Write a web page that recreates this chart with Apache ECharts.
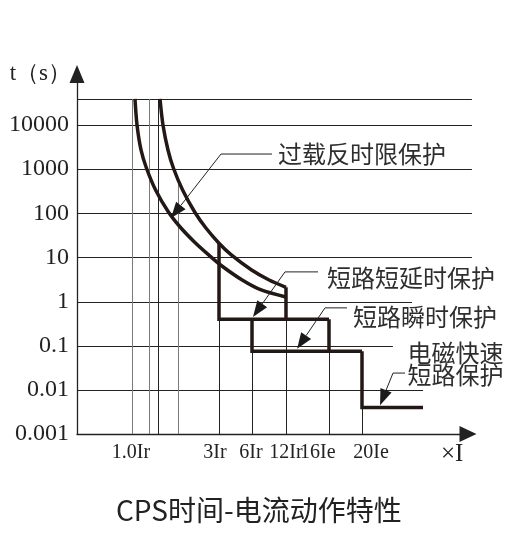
<!DOCTYPE html>
<html><head><meta charset="utf-8">
<script src="https://cdn.jsdelivr.net/npm/echarts@6/dist/echarts.min.js"></script>
<style>html,body{margin:0;padding:0;background:#fff}#c{width:518px;height:537px}</style>
</head><body><div id="c"></div>
<script>
// ---- tick labels ----
const yTickLabels = ['0.001', '0.01', '0.1', '1', '10', '100', '1000', '10000'];
const xLabels = ['1.0Ir', '3Ir', '6Ir', '12Ir', '16Ie', '20Ie'];
const xLabelPos = [13.8, 35.3, 44.5, 53.45, 61.6, 75.2];

// ---- reference lines ----
const hLineT = [0.01, 0.1, 1, 10, 100, 1000, 10000, 39000];
const hLineEnd = [88.5, 80.8, 85.7, 101, 101, 101, 101, 101];
const vLineX = [14.07, 18.41, 20.72, 25.83, 36.32, 44.76, 53.45, 64.45, 72.89];
const vLineTop = [39000, 39000, 39000, 600, 0.4, 0.075, 0.4, 0.075, 0.004];
const vLineGray = [true, true, false, true, false, false, false, false, false];

// ---- inverse-time (overload) curves ----
const curveAX = [14.83, 15.35, 16.37, 17.75, 20.10, 23.38, 26.37, 30.03, 33.68, 37.06, 42.25, 47.11, 53.45];
const curveAT = [39000, 10000, 2718, 1062, 337, 107, 48.9, 22.4, 11.4, 6.4, 3.08, 1.83, 1.27];
const curveBX = [21.23, 21.99, 23.27, 24.65, 27.01, 30.10, 32.97, 36.32, 39.46, 44.65, 49.13, 53.45];
const curveBT = [39000, 10000, 2718, 1062, 337, 107, 46.4, 21, 11.4, 5.19, 3.08, 2.1];

// ---- step characteristics ----
const shortDelayX = [36.32, 36.32, 64.45];
const shortDelayT = [21, 0.4, 0.4];
const shortDelayDropX = [53.45, 53.45];
const shortDelayDropT = [2.1, 0.4];
const instantX = [44.76, 44.76, 72.89];
const instantT = [0.4, 0.075, 0.075];
const instantDropX = [64.45, 64.45];
const instantDropT = [0.4, 0.075];
const emX = [72.89, 72.89, 88.49];
const emT = [0.075, 0.004, 0.004];

// ---- annotations ----
const annLabels = [['过载反时限保护'], ['短路短延时保护'], ['短路瞬时保护'], ['电磁快速', '短路保护']];
const annTip = [[24.04, 78], [45.0, 0.45], [56.3, 0.085], [77.5, 0.0045]];
const annElbow = [[36.83, 2200], [53.2, 4.7], [63.43, 0.72], [80.82, 0.024]];
const annLineEndX = [49.87, 61.64, 69.05, 83.89];
const annTextX = [51.4, 63.94, 70.59, 84.5];
const annTextT = [[2200], [3.4], [0.45], [0.068, 0.0217]];

const zip = (xs, ys) => xs.map((x, i) => [x, ys[i]]);
const INK = '#231815';

function stepSeries(name, xs, ts) {
  return {
    type: 'line', name, data: zip(xs, ts), symbol: 'none', z: 4,
    lineStyle: { color: INK, width: 3.5, join: 'miter', cap: 'butt' }, silent: true
  };
}

const chart = echarts.init(document.getElementById('c'), null, { renderer: 'canvas' });
chart.setOption({
  animation: false,
  backgroundColor: '#fff',
  title: {
    text: 'CPS时间-电流动作特性', left: 111, top: 491,
    textStyle: { fontFamily: 'Noto Sans CJK SC', fontSize: 28, fontWeight: 'normal', color: '#222' }
  },
  grid: { left: 77, right: 50, top: 74, bottom: 103, outerBoundsMode: 'none' },
  xAxis: {
    type: 'value', min: 0, max: 100,
    name: '×I', nameLocation: 'end', nameGap: -27,
    nameTextStyle: { fontFamily: 'Liberation Serif', fontSize: 25, color: '#222', verticalAlign: 'top', align: 'left', padding: [8, 0, 0, 0] },
    axisLine: { onZero: false, symbol: ['none', 'triangle'], symbolSize: [16, 17], lineStyle: { color: '#222', width: 1.3 } },
    axisTick: { show: false },
    splitLine: { show: false },
    axisLabel: {
      customValues: xLabelPos, margin: 9,
      fontFamily: 'Liberation Serif', fontSize: 20, color: '#222',
      formatter: v => { const i = xLabelPos.findIndex(p => Math.abs(p - v) < 1e-6); return i >= 0 ? xLabels[i] : ''; }
    }
  },
  yAxis: {
    type: 'log', logBase: 10, min: 0.001, max: 143000, splitNumber: 10,
    name: 't（s）', nameLocation: 'end', nameGap: 0,
    nameTextStyle: { fontFamily: 'Liberation Serif', fontSize: 23, color: '#222', align: 'right', verticalAlign: 'middle', padding: [0, 6, 0, 0] },
    axisLine: { onZero: false, symbol: ['none', 'triangle'], symbolSize: [15, 18], lineStyle: { color: '#222', width: 1.3 } },
    axisTick: { show: false },
    splitLine: { show: false },
    axisLabel: {
      margin: 8, fontFamily: 'Liberation Serif', fontSize: 24, color: '#222',
      formatter: v => {
        const l = Math.log10(v), e = Math.round(l);
        return (Math.abs(l - e) < 0.01 && e >= -3 && e <= 4) ? yTickLabels[e + 3] : '';
      }
    }
  },
  series: [
    {
      type: 'custom', name: 'hlines', z: 1, silent: true, clip: false,
      data: zip(hLineEnd, hLineT),
      renderItem: (params, api) => {
        const i = params.dataIndex;
        const a = api.coord([0, hLineT[i]]), b = api.coord([hLineEnd[i], hLineT[i]]);
        return { type: 'line', shape: { x1: a[0], y1: Math.round(a[1]) + 0.5, x2: b[0], y2: Math.round(b[1]) + 0.5 }, style: { stroke: '#222', lineWidth: 1 } };
      }
    },
    {
      type: 'custom', name: 'vlines', z: 1, silent: true, clip: false,
      data: zip(vLineX, vLineTop),
      renderItem: (params, api) => {
        const i = params.dataIndex;
        const a = api.coord([vLineX[i], 0.001]), b = api.coord([vLineX[i], vLineTop[i]]);
        const x = Math.round(a[0]) + 0.5;
        return { type: 'line', shape: { x1: x, y1: a[1], x2: x, y2: b[1] }, style: { stroke: vLineGray[i] ? '#7a7a7a' : '#222', lineWidth: 1 } };
      }
    },
    { type: 'line', name: 'curveA', data: zip(curveAX, curveAT), symbol: 'none', smooth: 0.3, z: 4, silent: true, lineStyle: { color: INK, width: 3.5 } },
    { type: 'line', name: 'curveB', data: zip(curveBX, curveBT), symbol: 'none', smooth: 0.3, z: 4, silent: true, lineStyle: { color: INK, width: 3.5 } },
    stepSeries('shortDelay', shortDelayX, shortDelayT),
    stepSeries('shortDelayDrop', shortDelayDropX, shortDelayDropT),
    stepSeries('instant', instantX, instantT),
    stepSeries('instantDrop', instantDropX, instantDropT),
    stepSeries('em', emX, emT),
    {
      type: 'custom', name: 'annotations', z: 6, silent: true, clip: false,
      data: annTip,
      renderItem: (params, api) => {
        const i = params.dataIndex;
        const tip = api.coord(annTip[i]);
        const elb = api.coord(annElbow[i]);
        const end = api.coord([annLineEndX[i], annElbow[i][1]]);
        const dx = elb[0] - tip[0], dy = elb[1] - tip[1];
        const L = Math.hypot(dx, dy), ux = dx / L, uy = dy / L;
        const aLen = 16, aW = 6;
        const bx = tip[0] + ux * aLen, by = tip[1] + uy * aLen;
        const children = [
          { type: 'polyline', shape: { points: [[bx, by], elb, end] }, style: { stroke: '#222', lineWidth: 1, fill: 'none' } },
          { type: 'polygon', shape: { points: [tip, [bx - uy * aW, by + ux * aW], [bx + uy * aW, by - ux * aW]] }, style: { fill: '#1a1a1a' } }
        ];
        annLabels[i].forEach((s, k) => {
          const p = api.coord([annTextX[i], annTextT[i][k]]);
          children.push({ type: 'text', style: { text: s, x: p[0], y: p[1], fill: '#2e2e2e', font: '24px "Noto Sans CJK SC"', align: 'left', verticalAlign: 'middle' } });
        });
        return { type: 'group', children };
      }
    }
  ]
});
</script>
</body></html>
